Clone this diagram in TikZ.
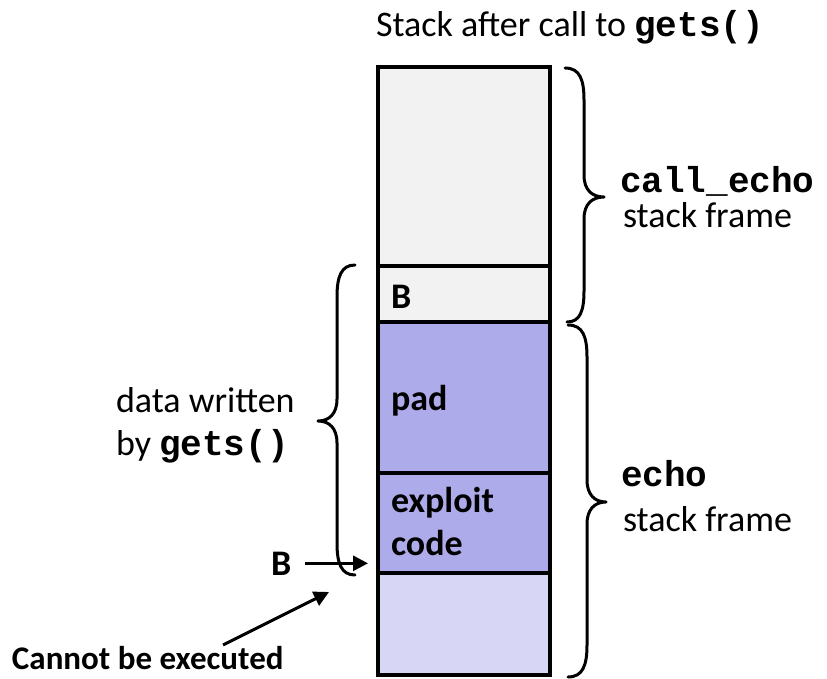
\documentclass[tikz,border=0pt]{standalone}
\usepackage{fontspec}
\setmainfont{Carlito}
\newfontfamily\monofont{Liberation Mono}
\usetikzlibrary{arrows.meta}
\definecolor{cgray}{RGB}{242,242,242}
\definecolor{cpurple}{RGB}{174,171,234}
\definecolor{clight}{RGB}{215,215,245}
\begin{document}
\begin{tikzpicture}[x=1pt,y=-1pt,
  cell/.style={draw=black, line width=4pt, minimum width=172pt, anchor=north west, inner sep=0pt, outer sep=0pt},
  lbl/.style={anchor=base west, inner sep=0pt, outer sep=0pt, font=\fontsize{36}{40}\selectfont},
  blbl/.style={lbl, font=\fontsize{36}{40}\selectfont\bfseries},
  mono/.style={lbl, font=\fontsize{36}{40}\selectfont\monofont\bfseries},
  brace/.style={line width=3pt, line cap=round, line join=round},
  arr/.style={line width=3pt, -{Triangle[length=15pt,width=15pt]}}]
\useasboundingbox (0,0) rectangle (827,679);

% stack cells
\node[cell, fill=cgray,   minimum height=199pt] (c1) at (378,67) {};
\node[cell, fill=cgray,   minimum height=56pt]  (c2) at (378,266) {};
\node[cell, fill=cpurple, minimum height=151pt] (c3) at (378,322) {};
\node[cell, fill=cpurple, minimum height=100pt] (c4) at (378,473) {};
\node[cell, fill=clight,  minimum height=102pt] (c5) at (378,573) {};

% cell labels
\node[blbl] (lB)    at (391,308) {B};
\node[blbl] (lpad)  at (391,410) {pad};
\node[blbl] (lexp)  at (391,512) {exploit};
\node[blbl] (lcode) at (391,555) {code};

% title
\node[lbl] (title) at (376,37) {Stack after call to {\monofont\bfseries gets()}};

% right labels
\node[mono] (ce)  at (620,193) {call\_echo};
\node[lbl]  (sf1) at (623,228) {stack frame};
\node[mono] (ec)  at (621,486) {echo};
\node[lbl]  (sf2) at (623,531) {stack frame};

% left labels
\node[lbl] (dw) at (116,412) {data written};
\node[lbl] (bg) at (116,455) {by {\monofont\bfseries gets()}};

% braces
\draw[brace] (565,68) .. controls (580,68) and (584,80) .. (584,100) -- (584,175)
  .. controls (584,190) and (592,197) .. (604,197)
  .. controls (592,197) and (584,204) .. (584,219) -- (584,291)
  .. controls (584,311) and (580,322) .. (567,322);
\draw[brace] (568,325) .. controls (583,325) and (587,337) .. (587,357) -- (587,480)
  .. controls (587,495) and (595,502) .. (606,502)
  .. controls (595,502) and (587,509) .. (587,524) -- (587,645)
  .. controls (587,665) and (583,677) .. (568,677);
\draw[brace] (355,265) .. controls (341,265) and (337,277) .. (337,297) -- (337,399)
  .. controls (337,414) and (329,421) .. (318,421)
  .. controls (329,421) and (337,428) .. (337,443) -- (337,543)
  .. controls (337,563) and (341,575) .. (355,575);

% B arrow
\node[blbl] (bA) at (271,575) {B};
\coordinate (bT) at (368,564);
\draw[arr, shorten <=14pt] (bA.east) -- (bA.east -| bT);

% cannot be executed
\node[lbl, font=\fontsize{33}{36}\selectfont\bfseries] (cant) at (12,669) {Cannot be executed};
\coordinate (cs) at (223,645);
\coordinate (ct) at (329,592);
\draw[arr] (cs) -- (ct);
\end{tikzpicture}
\end{document}
